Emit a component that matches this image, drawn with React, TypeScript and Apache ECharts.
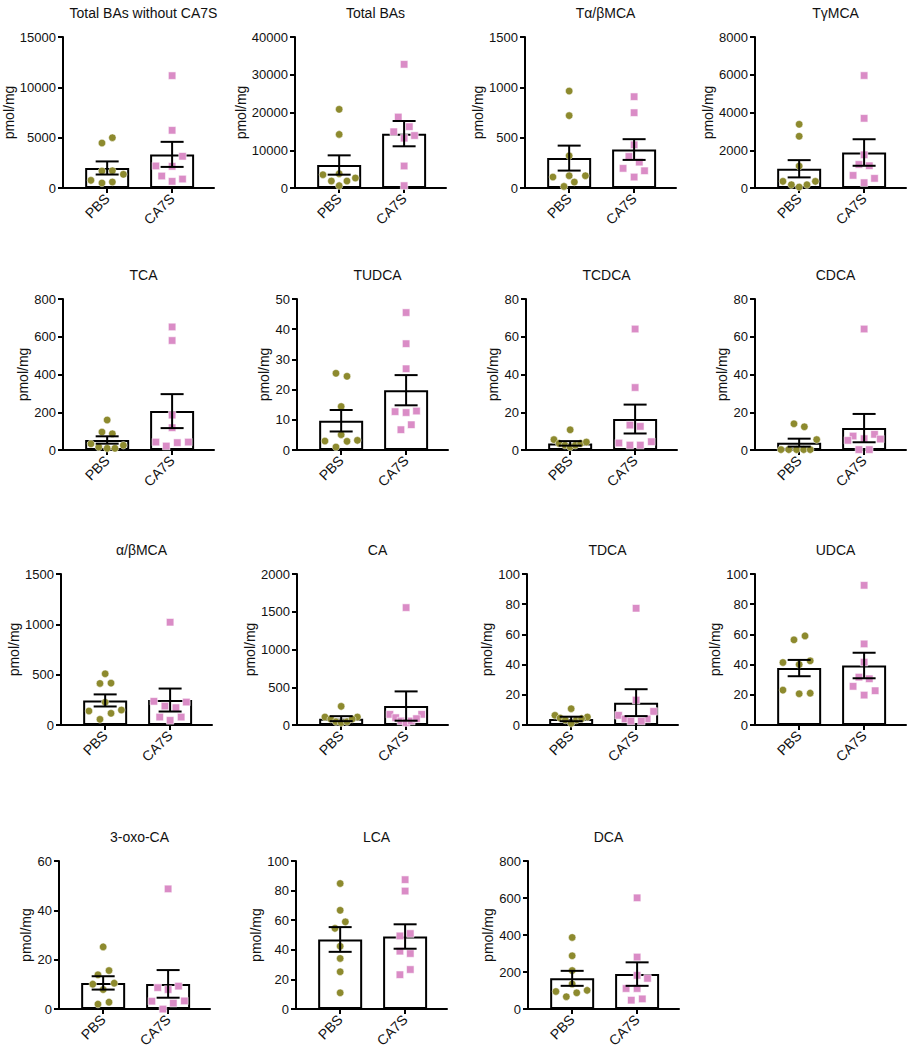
import React, { useEffect, useRef } from "react";
import * as echarts from "echarts";

const groups = ["PBS", "CA7S"];

const titles = [
  "Total BAs without CA7S", "Total BAs", "Tα/βMCA", "TγMCA",
  "TCA", "TUDCA", "TCDCA", "CDCA",
  "α/βMCA", "CA", "TDCA", "UDCA",
  "3-oxo-CA", "LCA", "DCA",
];
const yMax = [15000, 40000, 1500, 8000, 800, 50, 80, 80, 1500, 2000, 100, 100, 60, 100, 800];
const yStep = [5000, 10000, 500, 2000, 200, 10, 20, 20, 500, 500, 20, 20, 20, 20, 200];

// bar heights (mean) and SEM
const meanPBS = [1990, 6090, 297, 1019, 53, 9.69, 3.5, 3.9, 244, 84, 4.0, 37.7, 10.6, 47.0, 166];
const semPBS = [650, 2560, 124, 457, 19.5, 3.56, 1.2, 2.1, 60, 33, 1.5, 5.4, 2.7, 8.35, 40.5];
const meanCA7S = [3340, 14400, 382, 1880, 206, 19.8, 16.4, 11.6, 248, 251, 14.8, 39.4, 10.2, 49.0, 189];
const semCA7S = [1245, 3350, 103, 703, 90, 5.0, 7.65, 7.5, 114, 194, 8.9, 8.45, 5.6, 8.25, 63.5];

// individual points (values) and horizontal spread (x-axis units around group position)
const pbs1 = [5000, 4470, 1720, 1690, 1360, 760, 500, 600];
const pbs1x = [0.08, -0.08, 0.08, -0.08, 0.25, -0.25, -0.08, 0.08];
const ca1 = [11160, 5730, 3150, 2190, 2150, 1190, 890, 660];
const ca1x = [0, 0, 0.16, -0.25, 0, -0.16, 0.16, 0];

const pbs2 = [20840, 14200, 3530, 3800, 1850, 1850, 2650, 620];
const pbs2x = [0, 0, -0.25, 0, -0.12, 0.12, 0.25, 0];
const ca2 = [32760, 18800, 16250, 14900, 13200, 13900, 5830, 620];
const ca2x = [0, -0.09, 0.08, -0.16, 0, 0.16, 0, 0];

const pbs3 = [963, 719, 320, 109, 122, 122, 59, 16];
const pbs3x = [0, 0, 0, -0.25, 0, 0.25, 0.08, -0.08];
const ca3 = [907, 748, 429, 313, 257, 195, 171, 109];
const ca3x = [0, 0, 0, -0.08, 0.08, -0.17, 0.16, 0];

const pbs4 = [3375, 2742, 1160, 352, 352, 176, 176, 53];
const pbs4x = [0, 0, 0, -0.25, 0.25, -0.12, 0.12, 0];
const ca4 = [5958, 3691, 1758, 1248, 1178, 668, 510, 281];
const ca4x = [0, 0, 0, -0.08, 0.08, -0.17, 0.16, 0];

const pbs5 = [159, 95, 86, 33, 25, 16, 9, 9];
const pbs5x = [0, -0.08, 0.08, -0.25, 0.25, -0.13, 0, 0.12];
const ca5 = [652, 580, 185, 118, 42, 39, 42, 21];
const ca5x = [0, 0, 0, 0, -0.25, 0.08, 0.25, -0.09];

const pbs6 = [25.4, 24.4, 14.4, 5.07, 2.97, 2.86, 3.19, 0.99];
const pbs6x = [-0.08, 0.09, 0, 0, -0.25, 0.09, 0.25, -0.08];
const ca6 = [45.5, 35.2, 26.9, 12.7, 12.4, 12.9, 8.37, 6.72];
const ca6x = [0, 0, 0, -0.17, 0, 0.16, 0.08, -0.08];

const pbs7 = [10.7, 5.5, 3.5, 2.5, 1.6, 2.5, 3.5, 4.2];
const pbs7x = [0, -0.25, -0.17, -0.08, 0, 0.08, 0.16, 0.25];
const ca7 = [64.1, 33.1, 13.2, 12.5, 3.7, 4.4, 2.6, 2.6];
const ca7x = [0, 0, -0.08, 0.08, -0.25, 0.25, -0.08, 0.08];

const pbs8 = [13.9, 12.3, 5.5, 0.2, 0.2, 0.2, 0.2, 0.2];
const pbs8x = [-0.08, 0.08, 0.27, -0.28, -0.16, -0.04, 0.07, 0.17];
const ca8 = [64.1, 8.3, 7.4, 6.0, 5.1, 5.8, 0.2, 0.2];
const ca8x = [0, 0.16, -0.17, 0, -0.25, 0.25, -0.08, 0.08];

const pbs9 = [509, 413, 416, 225, 139, 149, 116, 56];
const pbs9x = [0, -0.08, 0.09, 0, -0.25, 0.25, 0.09, -0.08];
const ca9 = [1021, 235, 228, 188, 172, 79, 79, 46];
const ca9x = [0, -0.25, 0.25, -0.08, 0.09, -0.16, 0.17, 0];

const pbs10 = [247, 106, 106, 79, 44, 31, 44, 79];
const pbs10x = [0, -0.25, 0.25, -0.16, -0.08, 0, 0.09, 0.17];
const ca10 = [1555, 141, 141, 97, 53, 31, 53, 84];
const ca10x = [0, 0.24, -0.25, -0.16, -0.08, 0, 0.08, 0.16];

const pbs11 = [10.8, 6.4, 5.3, 4.6, 3.3, 3.3, 4.2, 1.1];
const pbs11x = [0, -0.25, 0.25, -0.17, -0.09, 0.08, 0.16, 0];
const ca11 = [77.3, 16.5, 9.0, 6.4, 4.0, 4.0, 2.6, 2.6];
const ca11x = [0, 0, 0.27, -0.27, -0.17, 0.17, -0.08, 0.08];

const pbs12 = [59.0, 56.4, 41.4, 42.5, 40.1, 23.1, 20.7, 21.1];
const pbs12x = [0.09, -0.08, -0.25, 0.17, 0, -0.25, 0, 0.17];
const ca12 = [92.5, 53.7, 41.6, 31.7, 30.6, 25.6, 22.7, 19.8];
const ca12x = [0, 0, 0, -0.08, 0.08, -0.17, 0.17, 0];

const pbs13 = [25.2, 15.6, 13.9, 10.1, 10.5, 7.9, 2.0, 2.8];
const pbs13x = [0, 0.09, -0.08, -0.16, 0.17, 0, -0.08, 0.09];
const ca13 = [48.7, 8.7, 7.9, 9.3, 3.2, 3.3, 2.4, 0];
const ca13x = [0, -0.16, 0, 0.16, -0.25, 0.25, 0.08, -0.08];

const pbs14 = [84.8, 66.7, 58.9, 54.5, 42.4, 34.2, 25.2, 11.0];
const pbs14x = [0, 0, 0.08, -0.08, 0, 0, 0, 0];
const ca14 = [87.4, 79.7, 51.0, 49.4, 39.1, 37.5, 26.7, 23.2];
const ca14x = [0, 0, 0.08, -0.08, -0.08, 0.08, 0.08, -0.08];

const pbs15 = [387, 288, 208, 136, 95, 101, 88, 67];
const pbs15x = [0, 0, 0, 0, -0.25, 0.23, 0.07, -0.09];
const ca15 = [601, 281, 182, 166, 111, 111, 48, 55];
const ca15x = [0, 0, 0, 0.16, -0.17, 0, -0.09, 0.08];

const pbsPoints = [pbs1, pbs2, pbs3, pbs4, pbs5, pbs6, pbs7, pbs8, pbs9, pbs10, pbs11, pbs12, pbs13, pbs14, pbs15];
const pbsSpread = [pbs1x, pbs2x, pbs3x, pbs4x, pbs5x, pbs6x, pbs7x, pbs8x, pbs9x, pbs10x, pbs11x, pbs12x, pbs13x, pbs14x, pbs15x];
const caPoints = [ca1, ca2, ca3, ca4, ca5, ca6, ca7, ca8, ca9, ca10, ca11, ca12, ca13, ca14, ca15];
const caSpread = [ca1x, ca2x, ca3x, ca4x, ca5x, ca6x, ca7x, ca8x, ca9x, ca10x, ca11x, ca12x, ca13x, ca14x, ca15x];

// layout
const gridLefts = [63, 295, 525, 755, 63, 297, 526, 755, 61, 297, 527, 755, 59, 296, 528];
const rowTops = [37, 299, 574, 861];
const PLOT_W = 151;
const PLOT_H = 151;
const FONT = "'Liberation Sans', Arial, Helvetica, sans-serif";
const OLIVE = "#8d8a2e";
const PINK = "#da8cc6";
const TXT = "#111";

function buildOption() {
  const grid: any[] = [];
  const xAxis: any[] = [];
  const yAxis: any[] = [];
  const series: any[] = [];
  const title: any[] = [];

  titles.forEach((t, i) => {
    const left = gridLefts[i];
    const top = rowTops[Math.floor(i / 4)];
    grid.push({ left, top, width: PLOT_W, height: PLOT_H, containLabel: false });
    title.push({
      text: t,
      left: left + PLOT_W / 2,
      top: top - 36,
      textAlign: "center",
      textStyle: { fontSize: 14, fontWeight: "normal", color: TXT, fontFamily: FONT },
    });
    xAxis.push({
      gridIndex: i,
      type: "value",
      min: 0.32,
      max: 2.645,
      splitLine: { show: false },
      axisLine: { show: true, onZero: true, lineStyle: { color: "#000", width: 2 } },
      axisTick: { show: true, customValues: [1, 2], length: 5, lineStyle: { color: "#000", width: 2 } },
      axisLabel: {
        customValues: [1, 2],
        formatter: (v: number) => groups[Math.round(v) - 1] ?? "",
        rotate: 45,
        fontSize: 14,
        margin: 8,
        color: TXT,
        fontFamily: FONT,
      },
    });
    const digits = String(yMax[i]).length;
    yAxis.push({
      gridIndex: i,
      type: "value",
      min: 0,
      max: yMax[i],
      interval: yStep[i],
      name: "pmol/mg",
      nameLocation: "middle",
      nameGap: 12 + 7 * digits,
      nameTextStyle: { fontSize: 14, color: TXT, fontFamily: FONT },
      splitLine: { show: false },
      axisLine: { show: true, lineStyle: { color: "#000", width: 2 } },
      axisTick: { show: true, length: 5, lineStyle: { color: "#000", width: 2 } },
      axisLabel: {
        fontSize: 13,
        margin: 7,
        color: TXT,
        fontFamily: FONT,
        formatter: (v: number) => String(v),
      },
    });
    series.push({
      type: "bar",
      xAxisIndex: i,
      yAxisIndex: i,
      barWidth: 44,
      data: [[1, meanPBS[i]], [2, meanCA7S[i]]],
      itemStyle: { color: "#fff", borderColor: "#000", borderWidth: 2 },
      z: 1,
    });
    series.push({
      type: "scatter",
      xAxisIndex: i,
      yAxisIndex: i,
      symbol: "circle",
      symbolSize: 7.5,
      data: pbsPoints[i].map((v, k) => [1 + pbsSpread[i][k], v]),
      itemStyle: { color: OLIVE, borderColor: "rgba(255,255,255,0.6)", borderWidth: 0.8, opacity: 1 },
      z: 2,
    });
    series.push({
      type: "scatter",
      xAxisIndex: i,
      yAxisIndex: i,
      symbol: "rect",
      symbolSize: 7.5,
      data: caPoints[i].map((v, k) => [2 + caSpread[i][k], v]),
      itemStyle: { color: PINK, borderColor: "rgba(255,255,255,0.7)", borderWidth: 0.8, opacity: 1 },
      z: 2,
    });
    series.push({
      type: "custom",
      xAxisIndex: i,
      yAxisIndex: i,
      z: 3,
      data: [[1, meanPBS[i], semPBS[i]], [2, meanCA7S[i], semCA7S[i]]],
      encode: { x: 0, y: 1 },
      renderItem: (params: any, api: any) => {
        const x = api.value(0);
        const m = api.value(1);
        const s = api.value(2);
        const hi = api.coord([x, m + s]);
        const lo = api.coord([x, m - s]);
        const hw = 11.5;
        const style = { stroke: "#000", lineWidth: 2, fill: null };
        return {
          type: "group",
          children: [
            { type: "line", shape: { x1: hi[0], y1: hi[1], x2: lo[0], y2: lo[1] }, style },
            { type: "line", shape: { x1: hi[0] - hw, y1: hi[1], x2: hi[0] + hw, y2: hi[1] }, style },
            { type: "line", shape: { x1: lo[0] - hw, y1: lo[1], x2: lo[0] + hw, y2: lo[1] }, style },
          ],
        };
      },
    });
  });

  return {
    animation: false,
    backgroundColor: "#fff",
    textStyle: { fontFamily: FONT },
    title,
    grid,
    xAxis,
    yAxis,
    series,
  };
}

export default function App() {
  const ref = useRef<HTMLDivElement>(null);
  useEffect(() => {
    document.body.style.margin = "0";
    if (!ref.current) return;
    const chart = echarts.init(ref.current, undefined, { renderer: "svg" });
    chart.setOption(buildOption() as any);
    return () => chart.dispose();
  }, []);
  return <div ref={ref} style={{ width: 908, height: 1050 }} />;
}
